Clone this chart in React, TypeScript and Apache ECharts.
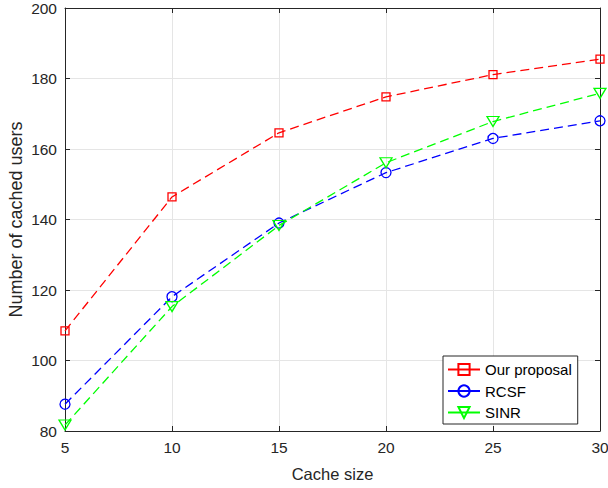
import React, { useEffect, useRef } from "react";
import * as echarts from "echarts";

const cacheSizes = [5, 10, 15, 20, 25, 30];
const ourProposal = [108.4, 146.4, 164.6, 174.8, 181.1, 185.5];
const rcsf = [87.6, 118.1, 139.0, 153.3, 163.0, 168.0];
const sinr = [81.7, 115.3, 138.3, 156.1, 167.8, 175.8];

const FONT = "'Liberation Sans', Arial, Helvetica, sans-serif";
const AX = "#262626";

function pairs(ys: number[]) {
  return cacheSizes.map((x, i) => [x, ys[i]]);
}

export default function App() {
  const ref = useRef<HTMLDivElement>(null);
  useEffect(() => {
    if (!ref.current) return;
    const chart = echarts.init(ref.current, undefined, { renderer: "svg" });
    const mk = (name: string, data: number[], color: string, symbol: string, size: number | number[], rotate = 0) => ({
      name,
      type: "line",
      data: pairs(data),
      xAxisIndex: 0,
      yAxisIndex: 0,
      symbol,
      symbolSize: size,
      symbolRotate: rotate,
      showAllSymbol: true,
      lineStyle: { color, width: 1.3, type: [9, 5] },
      itemStyle: { color: "rgba(0,0,0,0)", borderColor: color, borderWidth: 1.3 },
      emphasis: { disabled: true },
      z: 3,
    });
    const sideAxis = {
      axisLine: { show: true, lineStyle: { color: AX, width: 1 } },
      axisTick: { show: true, inside: true, length: 5, lineStyle: { color: AX } },
    };
    chart.setOption({
      animation: false,
      backgroundColor: "#fff",
      grid: { left: 65, right: 8, top: 8, bottom: 57, containLabel: false, outerBoundsMode: "none" },
      legend: {
        orient: "vertical",
        left: 443,
        top: 356,
        padding: [6, 6, 4, 4],
        itemWidth: 32,
        itemHeight: 14,
        itemGap: 6.5,
        backgroundColor: "#fff",
        borderColor: AX,
        borderWidth: 1,
        textStyle: { fontFamily: FONT, fontSize: 15, color: "#000" },
        lineStyle: { type: "solid" },
        data: ["Our proposal", "RCSF", "SINR"],
      },
      xAxis: [
        {
          type: "value",
          min: 5,
          max: 30,
          interval: 5,
          position: "bottom",
          name: "Cache size",
          nameLocation: "middle",
          nameGap: 34,
          nameMoveOverlap: false,
          nameTextStyle: { fontFamily: FONT, fontSize: 16.5, color: AX },
          ...sideAxis,
          axisLabel: { fontFamily: FONT, fontSize: 15.5, color: AX, margin: 8 },
          splitLine: { show: true, lineStyle: { color: "#e5e5e5", width: 1 } },
        },
        {
          type: "value",
          min: 5,
          max: 30,
          interval: 5,
          position: "top",
          ...sideAxis,
          axisLabel: { show: false },
          splitLine: { show: false },
        },
      ],
      yAxis: [
        {
          type: "value",
          min: 80,
          max: 200,
          interval: 20,
          position: "left",
          name: "Number of cached users",
          nameLocation: "middle",
          nameGap: 40,
          nameMoveOverlap: false,
          nameTextStyle: { fontFamily: FONT, fontSize: 18, color: AX },
          ...sideAxis,
          axisLabel: { fontFamily: FONT, fontSize: 15.5, color: AX, margin: 8 },
          splitLine: { show: true, lineStyle: { color: "#e5e5e5", width: 1 } },
        },
        {
          type: "value",
          min: 80,
          max: 200,
          interval: 20,
          position: "right",
          ...sideAxis,
          axisLabel: { show: false },
          splitLine: { show: false },
        },
      ],
      series: [
        mk("Our proposal", ourProposal, "#ff0000", "rect", 8),
        mk("RCSF", rcsf, "#0000ff", "circle", 10),
        mk("SINR", sinr, "#00ff00", "triangle", [12, 10], 180),
      ],
    });
    return () => chart.dispose();
  }, []);
  return <div ref={ref} style={{ width: 608, height: 488, position: "absolute", left: 0, top: 0 }} />;
}
